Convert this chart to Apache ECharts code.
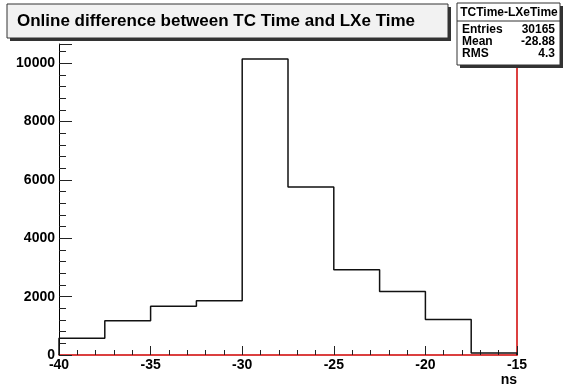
<!DOCTYPE html>
<html>
<head>
<meta charset="utf-8">
<script src="https://cdn.jsdelivr.net/npm/echarts@6/dist/echarts.min.js"></script>
<style>
  html, body { margin: 0; padding: 0; background: #fff; }
  #chart { width: 563px; height: 388px; }
</style>
</head>
<body>
<div id="chart"></div>
<script>
// histogram bins (ns) and contents
var binEdges = [-40, -37.5, -35, -32.5, -30, -27.5, -25, -22.5, -20, -17.5, -15];
var counts = [576, 1173, 1674, 1859, 10150, 5757, 2923, 2178, 1218, 70];
var statNames = ['Entries', 'Mean', 'RMS'];
var statValues = ['30165', '-28.88', '4.3'];
var histName = 'TCTime-LXeTime';
var titleText = 'Online difference between TC Time and LXe Time';
var yMax = 10660;

var FONT = '"Liberation Sans", Arial, sans-serif';

// step outline built from the bin edges
var outline = [[binEdges[0], 0]];
for (var i = 0; i < counts.length; i++) {
  outline.push([binEdges[i], counts[i]]);
  outline.push([binEdges[i + 1], counts[i]]);
}
outline.push([binEdges[binEdges.length - 1], 0]);

var statsGraphics = [];
statNames.forEach(function (n, k) {
  var y = 30 + k * 12;
  statsGraphics.push({
    type: 'text', x: 462, y: y, z: 20,
    style: { text: n, font: 'bold 12px ' + FONT, fill: '#000', textVerticalAlign: 'middle' }
  });
  statsGraphics.push({
    type: 'text', x: 555, y: y, z: 20,
    style: { text: statValues[k], font: 'bold 12px ' + FONT, fill: '#000', textAlign: 'right', textVerticalAlign: 'middle' }
  });
});

var plain = function (v) { return String(v); };

var myChart = echarts.init(document.getElementById('chart'));
var option = {
  animation: false,
  backgroundColor: '#fff',
  grid: { left: 59, right: 46, top: 44, bottom: 33 },
  xAxis: {
    type: 'value',
    min: -40, max: -15, interval: 5,
    splitLine: { show: false },
    axisLine: { show: true, onZero: false, lineStyle: { color: '#d00000', width: 1.5 } },
    axisTick: { show: true, inside: true, length: 9, lineStyle: { color: '#222' } },
    minorTick: { show: true, splitNumber: 5, length: 5, lineStyle: { color: '#222' } },
    axisLabel: { margin: 3, color: '#000', fontSize: 14, fontWeight: 'bold', fontFamily: FONT, formatter: plain }
  },
  yAxis: [{
    type: 'value',
    min: 0, max: yMax, interval: 2000,
    splitLine: { show: false },
    axisLine: { show: true, lineStyle: { color: '#000', width: 1 } },
    axisTick: { show: true, inside: true, length: 13, lineStyle: { color: '#222' } },
    minorTick: { show: true, splitNumber: 5, length: 7, lineStyle: { color: '#222' } },
    axisLabel: { margin: 4, color: '#000', fontSize: 14, fontWeight: 'bold', fontFamily: FONT, showMaxLabel: false, formatter: plain }
  }, {
    type: 'value', position: 'right',
    min: 0, max: yMax, interval: 2000,
    splitLine: { show: false },
    axisLine: { show: true, lineStyle: { color: '#d00000', width: 1.5 } },
    axisTick: { show: false },
    axisLabel: { show: false }
  }],
  series: [{
    type: 'line',
    data: outline,
    symbol: 'none',
    lineStyle: { color: '#111', width: 1.5 },
    z: 3
  }],
  graphic: [
    // title box with shadow
    { type: 'rect', shape: { x: 10, y: 7, width: 441, height: 34 }, style: { fill: '#333' }, z: 10 },
    { type: 'rect', shape: { x: 7, y: 4, width: 441, height: 34 }, style: { fill: '#f2f2f2', stroke: '#333', lineWidth: 1 }, z: 11 },
    { type: 'text', x: 216, y: 21, z: 12,
      style: { text: titleText, font: 'bold 17px ' + FONT, fill: '#000', textAlign: 'center', textVerticalAlign: 'middle' } },
    // stats box with shadow
    { type: 'rect', shape: { x: 460, y: 6, width: 103, height: 62 }, style: { fill: '#333' }, z: 18 },
    { type: 'rect', shape: { x: 457, y: 3, width: 103, height: 62 }, style: { fill: '#fff', stroke: '#333', lineWidth: 1 }, z: 19 },
    { type: 'text', x: 509, y: 13, z: 20,
      style: { text: histName, font: 'bold 12px ' + FONT, fill: '#000', textAlign: 'center', textVerticalAlign: 'middle' } },
    { type: 'line', shape: { x1: 457, y1: 21, x2: 560, y2: 21 }, style: { stroke: '#333', lineWidth: 1 }, z: 20 },
    // axis title
    { type: 'text', x: 517, y: 380, z: 20,
      style: { text: 'ns', font: 'bold 14px ' + FONT, fill: '#000', textAlign: 'right', textVerticalAlign: 'middle' } }
  ].concat(statsGraphics)
};
myChart.setOption(option);
</script>
</body>
</html>
